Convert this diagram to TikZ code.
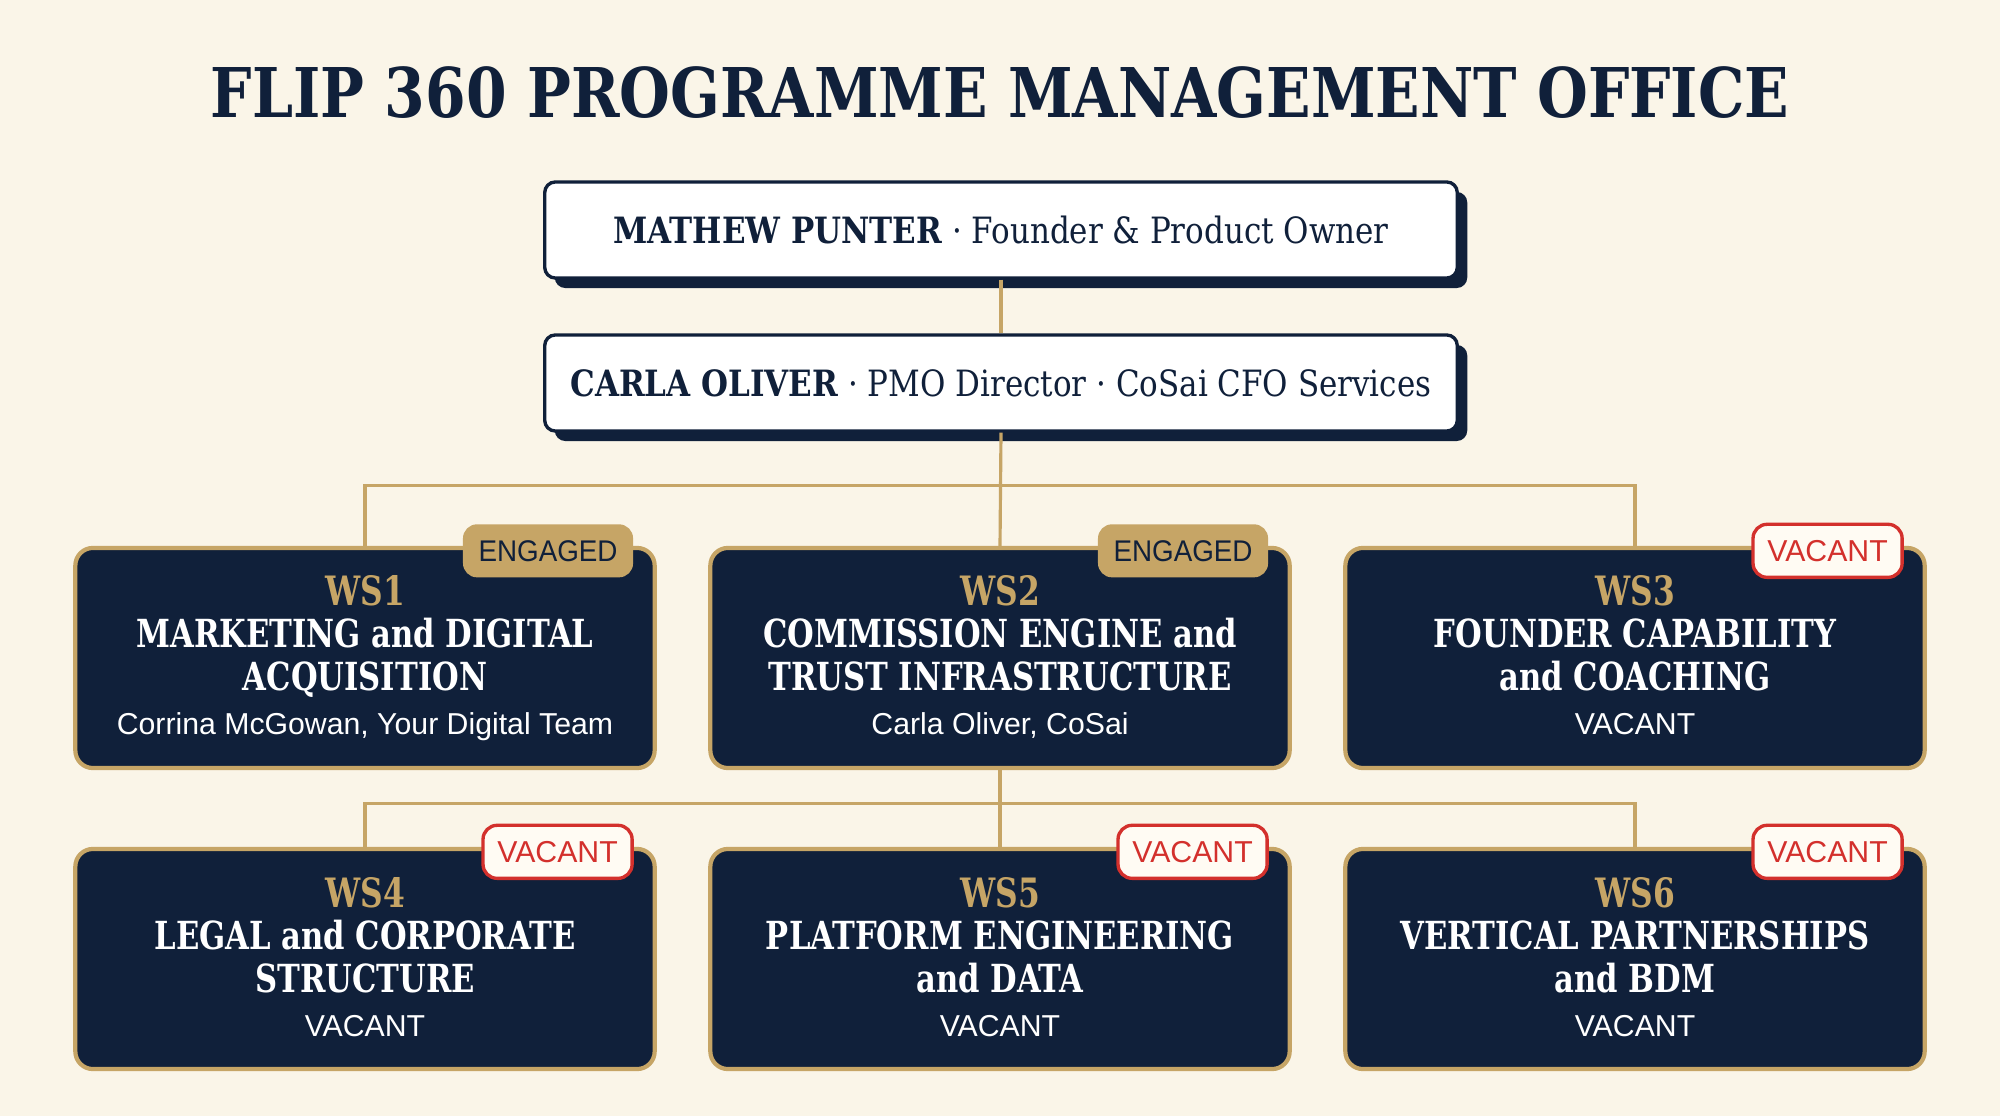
\documentclass[tikz,border=0pt]{standalone}
\usepackage{fontspec}
\setmainfont{DejaVu Serif Condensed}[BoldFont={DejaVu Serif Condensed Bold}]
\newfontfamily\titlef{DejaVu Serif Condensed Bold}[FakeStretch=0.946]
\newfontfamily\leadf{DejaVu Serif Condensed}[FakeStretch=0.95, BoldFont={DejaVu Serif Condensed Bold}]
\newfontfamily\wstitf{DejaVu Serif Condensed Bold}[FakeStretch=0.88]
\newfontfamily\wslabf{DejaVu Serif Condensed Bold}[FakeStretch=0.86]
\newfontfamily\sansf{Liberation Sans}
\newfontfamily\engf{Liberation Sans}[FakeStretch=0.93]
\usetikzlibrary{calc,shadows}
\definecolor{bg}{HTML}{FAF5E8}
\definecolor{navy}{HTML}{10203A}
\definecolor{gold}{HTML}{C6A566}
\definecolor{redv}{HTML}{D3302C}
\definecolor{cream}{HTML}{FFFBF3}
\tikzset{
  leadbox/.style={draw=navy, line width=0.95pt, fill=white, rounded corners=3pt,
    minimum width=9.12cm, minimum height=0.96cm, inner sep=0pt,
    drop shadow={shadow xshift=0.1cm, shadow yshift=-0.1cm, fill=navy, opacity=1}},
  wsbox/.style={draw=gold, line width=1.2pt, fill=navy, rounded corners=5pt,
    minimum width=5.79cm, minimum height=2.2cm, inner sep=0pt},
  conn/.style={draw=gold, line width=0.9pt},
  wslabel/.style={anchor=base, text=gold, font=\wslabf\fontsize{11.5}{13}\selectfont, inner sep=0pt},
  wstitle/.style={anchor=base, text=white, font=\wstitf\fontsize{11}{13}\selectfont, inner sep=0pt},
  wssub/.style={anchor=base, text=white, font=\sansf\fontsize{8.6}{10}\selectfont, inner sep=0pt},
  engbadge/.style={fill=gold, text=navy, rounded corners=4pt, font=\engf\fontsize{8.5}{10}\selectfont,
    minimum width=1.70cm, minimum height=0.53cm, inner sep=0pt, anchor=east},
  vacbadge/.style={fill=cream, draw=redv, line width=0.95pt, text=redv, rounded corners=4pt,
    font=\sansf\fontsize{8.6}{10}\selectfont, minimum width=1.49cm, minimum height=0.53cm, inner sep=0pt, anchor=east},
}
\newcommand{\wsunit}[9]{%
  \node[wsbox] (#1) at (#2,#3) {};
  \node[wslabel] (#1l) at ($(#1.center)+(0,-52)$) {#4};
  \node[wstitle] (#1a) at ($(#1.center)+(0,-10)$) {#5};
  \node[wstitle] (#1b) at ($(#1.center)+(0,33)$) {#6};
  \node[wssub] (#1s) at ($(#1.center)+(0,77)$) {#7};
  \node[#8] (#1badge) at ($(#1.north east)+(-23,5)$) {#9};
}
\begin{document}
\begin{tikzpicture}[x=0.01cm,y=-0.01cm]
\useasboundingbox (0,0) rectangle (2000,1116);
\fill[bg] (0,0) rectangle (2000,1116);
\node[text=navy, font=\titlef\fontsize{19.5}{22}\selectfont, inner sep=0pt] (title) at (1000,93) {FLIP 360 PROGRAMME MANAGEMENT OFFICE};
\node[leadbox] (mp) at (1001,230) {\color{navy}\leadf\fontsize{10.3}{12}\selectfont\textbf{MATHEW PUNTER} · Founder \& Product Owner};
\node[leadbox] (co) at (1001,383) {\color{navy}\leadf\fontsize{10.3}{12}\selectfont\textbf{CARLA OLIVER} · PMO Director · CoSai CFO Services};
\wsunit{ws1}{365}{658}{WS1}{MARKETING and DIGITAL}{ACQUISITION}{Corrina McGowan, Your Digital Team}{engbadge}{ENGAGED}
\wsunit{ws2}{1000}{658}{WS2}{COMMISSION ENGINE and}{TRUST INFRASTRUCTURE}{Carla Oliver, CoSai}{engbadge}{ENGAGED}
\wsunit{ws3}{1635}{658}{WS3}{FOUNDER CAPABILITY}{and COACHING}{VACANT}{vacbadge}{VACANT}
\wsunit{ws4}{365}{959}{WS4}{LEGAL and CORPORATE}{STRUCTURE}{VACANT}{vacbadge}{VACANT}
\wsunit{ws5}{1000}{959}{WS5}{PLATFORM ENGINEERING}{and DATA}{VACANT}{vacbadge}{VACANT}
\wsunit{ws6}{1635}{959}{WS6}{VERTICAL PARTNERSHIPS}{and BDM}{VACANT}{vacbadge}{VACANT}
\draw[conn] (mp.south) -- (co.north);
\draw[conn] (co.south) -- (ws2.north);
\draw[conn] (ws1.north) -- ++(0,-60) -| (ws3.north);
\draw[conn] (ws2.south) -- (ws5.north);
\draw[conn] (ws4.north) -- ++(0,-43) -| (ws6.north);
\end{tikzpicture}
\end{document}
